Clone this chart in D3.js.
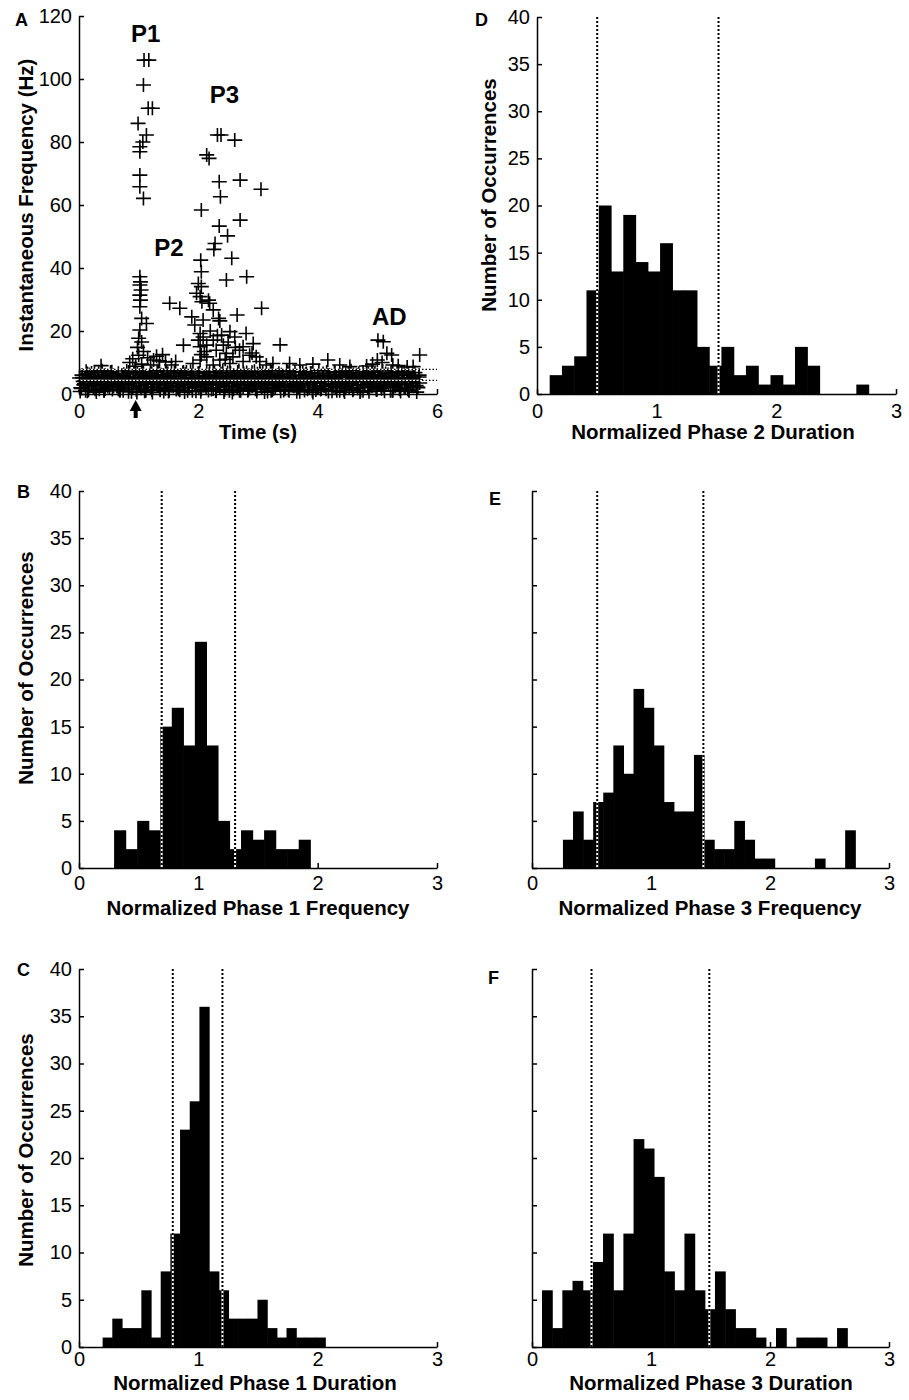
<!DOCTYPE html>
<html>
<head>
<meta charset="utf-8">
<title>phase histograms</title>
<style>
  body { margin: 0; background: #fff; }
  svg text { font-family: "Liberation Sans", Arial, sans-serif; }
</style>
</head>
<body>
<script src="https://d3js.org/d3.v7.min.js"></script>
<script>
// ---------- panel A : instantaneous frequency of every spike ----------
// high spikes (P1, P2, P3, AD), [time s, freq Hz]
var burstSpikes = [
  [1.09,106],[1.17,106],[1.08,98.1],[1.16,90.7],[1.23,90.7],[0.99,85.9],[1.13,82.2],[1.07,80],
  [1.02,78.5],[1.02,76.9],[1.02,69.5],[1.02,65.8],[1.08,62.1],
  [2.32,82.2],[2.38,82.2],[2.61,80.6],[2.14,75.9],[2.18,74.8],[2.35,67.4],[2.70,67.9],[3.05,65],
  [2.37,62.6],[2.05,58.4],[2.70,55.2],[2.35,53.3],[2.49,50.2],[2.28,47.8],[2.26,45.9],[2.56,43.1],
  [2.04,42.5],[2.05,38.8],[2.47,36.2],[2.81,37.2],[2.00,35.1],[2.05,34.1],[1.97,32],[2.03,30.9],
  [2.06,29.3],[2.17,29.8],[2.19,28.8],[2.25,26.7],[2.34,24],[2.36,23.2],[2.65,25.1],[3.06,27.2],
  [1.89,24.5],[1.94,21.9],[2.03,19.2],[2.08,18.1],[2.03,15],[2.08,23.5],[2.00,17.1],[2.14,15.5],
  [2.25,17.1],[2.39,18.7],[2.53,19.8],[2.61,18.1],[2.80,19.2],[2.92,16],[2.69,13.9],[2.47,12.9],
  [2.30,13.9],[2.14,11.8],[2.58,11.8],[2.86,12.3],[2.97,11.8],[2.03,10.8],[2.36,10.8],[2.75,10.3],
  [1.91,9.7],[2.25,9.2],[2.53,9.7],[3.03,10.3],[2.20,20],[2.42,15.5],[2.62,14.8],[2.10,13.5],
  [2.50,16.5],[2.75,15],[2.05,12.5],[2.32,18.5],[2.45,11],[2.90,13],[3.37,15.6],
  [3.14,9.2],[3.25,9.7],[3.53,9.7],[3.70,9.2],[3.92,9.5],[4.17,10.8],[4.37,9.2],[4.54,8.7],
  [4.82,8.9],[5.26,9.2],[5.60,8.7],
  [1.02,37.2],[1.03,35.6],[1.02,34.6],[1.04,33],[1.02,31.4],[1.03,29.8],[1.02,27.7],[1.05,24],
  [1.13,22.4],[1.02,20.3],[1.00,17.7],[1.05,16.5],[0.98,14.8],[1.08,13.5],[1.00,12.3],[0.90,11.2],
  [1.15,11.5],[1.25,10.8],[1.35,10.5],[1.45,10.2],[0.85,10],[1.05,9.5],[0.95,8.8],[1.20,9.2],
  [1.55,9.2],[1.62,10.3],[1.52,28.8],[1.69,27.2],[1.75,15.5],[1.30,12],[1.40,12.5],[0.37,9],
  [5.01,17.1],[5.10,16.6],[5.16,12.9],[5.24,12.4],[5.71,12.4],[5.00,10.8],[4.92,9.5],[5.08,10],
  [5.35,9],[5.50,8.6]
];
// background firing, times (s) and frequencies (Hz)
var baselineTimes = [
  0.03,0.11,0.18,0.27,0.35,0.42,0.51,0.58,0.66,0.74,0.81,0.90,0.97,1.04,1.12,1.20,1.27,1.36,1.43,1.51,
  1.58,1.67,1.74,1.82,1.90,1.97,2.05,2.13,2.20,2.29,2.36,2.44,2.52,2.59,2.67,2.75,2.83,2.90,2.98,3.06,
  3.13,3.22,3.29,3.37,3.45,3.52,3.60,3.68,3.76,3.83,3.91,3.99,4.06,4.14,4.22,4.30,4.37,4.45,4.53,4.60,
  4.68,4.76,4.84,4.91,4.99,5.07,5.14,5.22,5.30,5.37,5.45,5.53,5.60,5.68,
  0.07,0.15,0.22,0.31,0.38,0.47,0.54,0.62,0.70,0.78,0.86,0.93,1.01,1.08,1.16,1.24,1.32,1.39,1.47,1.55,
  1.63,1.70,1.78,1.86,1.94,2.01,2.09,2.17,2.25,2.32,2.40,2.48,2.56,2.63,2.71,2.79,2.87,2.94,3.02,3.10,
  3.18,3.25,3.33,3.41,3.49,3.56,3.64,3.72,3.80,3.87,3.95,4.03,4.10,4.18,4.26,4.34,4.41,4.49,4.57,4.64,
  4.72,4.80,4.88,4.95,5.03,5.11,5.18,5.26,5.34,5.41,5.49,5.57,5.64,5.71,
  0.05,0.14,0.24,0.33,0.44,0.53,0.63,0.72,0.83,0.92,1.02,1.11,1.22,1.31,1.41,1.50,1.61,1.70,1.80,1.89,
  2.00,2.10,2.19,2.28,2.38,2.47,2.57,2.66,2.76,2.85,2.95,3.04,3.14,3.23,3.33,3.43,3.52,3.62,3.71,3.81,
  3.90,4.00,4.09,4.19,4.28,4.38,4.47,4.57,4.66,4.76,4.85,4.95,5.04,5.14,5.23,5.33,5.42,5.52,5.61,5.70,
  0.02,0.09,0.16,0.22,0.29,0.36,0.42,0.49,0.56,0.63,0.69,0.76,0.83,0.89,0.96,1.03,1.10,1.16,1.23,1.30,
  1.36,1.43,1.50,1.57,1.63,1.70,1.77,1.83,1.90,1.97,2.04,2.10,2.17,2.24,2.30,2.37,2.44,2.51,2.57,2.64,
  2.71,2.77,2.84,2.91,2.98,3.04,3.11,3.18,3.24,3.31,3.38,3.45,3.51,3.58,3.65,3.71,3.78,3.85,3.92,3.98,
  4.05,4.12,4.18,4.25,4.32,4.39,4.45,4.52,4.59,4.65,4.72,4.79,4.86,4.92,4.99,5.06,5.12,5.19,5.26,5.33,
  5.39,5.46,5.53,5.59,5.66,
  0.06,0.12,0.19,0.26,0.33,0.39,0.46,0.53,0.59,0.66,0.73,0.80,0.86,0.93,1.00,1.06,1.13,1.20,1.27,1.33,
  1.40,1.47,1.53,1.60,1.67,1.74,1.80,1.87,1.94,2.00,2.07,2.14,2.21,2.27,2.34,2.41,2.47,2.54,2.61,2.68,
  2.74,2.81,2.88,2.94,3.01,3.08,3.15,3.21,3.28,3.35,3.41,3.48,3.55,3.62,3.68,3.75,3.82,3.88,3.95,4.02,
  4.09,4.15,4.22,4.29,4.35,4.42,4.49,4.56,4.62,4.69,4.76,4.82,4.89,4.96,5.03,5.09,5.16,5.23,5.29,5.36,
  5.43,5.50,5.56,5.63,5.70,
  0.04,0.10,0.17,0.24,0.30,0.37,0.44,0.51,0.57,0.64,0.71,0.77,0.84,0.91,0.98,1.04,1.11,1.18,1.24,1.31,
  1.38,1.45,1.51,1.58,1.65,1.71,1.78,1.85,1.92,1.98,2.05,2.12,2.18,2.25,2.32,2.39,2.45,2.52,2.59,2.65,
  2.72,2.79,2.86,2.92,2.99,3.06,3.12,3.19,3.26,3.33,3.39,3.46,3.53,3.59,3.66,3.73,3.80,3.86,3.93,4.00,
  4.06,4.13,4.20,4.27,4.33,4.40,4.47,4.53,4.60,4.67,4.74,4.80,4.87,4.94,5.00,5.07,5.14,5.21,5.27,5.34,
  5.41,5.47,5.54,5.61,5.67,
  0.01,0.08,0.14,0.21,0.28,0.34,0.41,0.48,0.55,0.61,0.68,0.75,0.81,0.88,0.95,1.02,1.08,1.15,1.22,1.28,
  1.35,1.42,1.49,1.55,1.62,1.69,1.75,1.82,1.89,1.96,2.02,2.09,2.16,2.22,2.29,2.36,2.43,2.49,2.56,2.63,
  2.69,2.76,2.83,2.90,2.96,3.03,3.10,3.16,3.23,3.30,3.37,3.43,3.50,3.57,3.63,3.70,3.77,3.84,3.90,3.97,
  4.04,4.10,4.17,4.24,4.31,4.37,4.44,4.51,4.57,4.64,4.71,4.78,4.84,4.91,4.98,5.04,5.11,5.18,5.25,5.31,
  5.38,5.45,5.51,5.58,5.65
];
var baselineFreqs = [
  2,1,2.5,1.5,3,1,2,2.5,1.5,1,3,2,0.5,2.5,1,2,3,1.5,2,1,
  2.5,1.5,3,1,2,2.5,1.5,2,3,1,2,2.5,1,1.5,3,2,1,2.5,1.5,2,
  3,1,2,2.5,1.5,1,2.5,2,3,1.5,1,2,2.5,1.5,3,2,1,2.5,2,1.5,
  3,1,2,2.5,1.5,2,3,1,2.5,1.5,2,1,2.5,2,
  4,4.5,3.5,5,4,3.5,4.5,5,4,3.5,4.5,4,5,3.5,4,4.5,5,4,3.5,4.5,
  4,5,3.5,4.5,4,5,4,3.5,4.5,4,5,3.5,4,4.5,4,5,3.5,4.5,4,5,
  4,3.5,4.5,5,4,4,3.5,4.5,5,4,4.5,3.5,4,5,4.5,4,3.5,4.5,4,5,
  4,4.5,3.5,4,5,4.5,4,3.5,4.5,4,5,4,4.5,3.5,
  6,6.5,5.5,7,6,6.5,5.5,6,7,6.5,6,5.5,6.5,7,6,5.5,6.5,6,7,6,
  6.5,5.5,7,6,6.5,6,5.5,7,6.5,6,5.5,6.5,6,7,6,5.5,6.5,6,7,6.5,
  6,5.5,6.5,6,7,6,6.5,5.5,6,7,6.5,6,5.5,6.5,6,7,6,6.5,5.5,6,
  0.8,3.2,1.2,2.8,0.6,3.4,1.0,3.0,1.4,2.6,1.1,2.9,0.7,3.3,1.3,2.7,0.9,3.1,0.5,3.5,
  1.2,2.8,0.8,3.2,1.4,2.6,0.6,3.4,1.0,3.0,0.7,3.3,1.1,2.9,0.9,3.1,1.3,2.7,0.5,3.5,
  1.0,3.0,1.4,2.6,0.8,3.2,0.6,3.4,1.2,2.8,0.9,3.1,1.3,2.7,0.7,3.3,1.1,2.9,0.5,3.5,
  1.4,2.6,0.8,3.2,1.0,3.0,0.6,3.4,1.2,2.8,1.1,2.9,0.7,3.3,1.3,2.7,0.9,3.1,1.0,3.0,
  0.8,3.2,1.2,2.8,0.6,
  5.2,7.2,4.8,6.8,5.4,7.4,5.0,7.0,4.6,6.6,5.3,7.3,4.9,6.9,5.1,7.1,4.7,6.7,5.5,7.5,
  5.0,7.0,5.4,7.4,4.8,6.8,5.2,7.2,4.6,6.6,5.1,7.1,4.9,6.9,5.3,7.3,4.7,6.7,5.5,7.5,
  4.8,6.8,5.2,7.2,5.0,7.0,5.4,7.4,4.6,6.6,5.3,7.3,4.9,6.9,5.1,7.1,4.7,6.7,5.5,7.5,
  5.0,7.0,4.8,6.8,5.2,7.2,5.4,7.4,4.6,6.6,5.1,7.1,4.9,6.9,5.3,7.3,4.7,6.7,5.0,7.0,
  5.2,7.2,4.8,6.8,5.4,
  1.8,4.2,6.2,2.2,3.8,5.8,1.6,4.4,6.0,2.4,3.6,5.6,2.0,4.0,6.4,1.8,3.9,5.9,2.3,4.3,
  6.1,1.7,3.7,5.7,2.1,4.1,6.3,1.9,4.2,5.8,2.2,3.8,6.2,1.6,4.4,5.6,2.4,3.6,6.0,2.0,
  4.0,5.9,1.8,3.9,6.4,2.3,4.3,5.7,1.7,3.7,6.1,2.1,4.1,5.8,1.9,4.2,6.3,2.2,3.8,5.6,
  1.6,4.4,6.0,2.4,3.6,5.9,2.0,4.0,6.2,1.8,3.9,5.7,2.3,4.3,6.1,1.7,3.7,5.8,2.1,4.1,
  6.3,1.9,4.2,5.6,2.2,
  5.1,2.9,0.9,6.7,3.3,1.5,5.5,2.5,7.1,4.6,1.1,6.3,3.1,0.7,5.3,2.7,6.9,4.8,1.3,5.7,
  3.5,0.8,6.5,2.6,4.7,1.2,7.0,3.2,5.0,0.9,6.6,2.8,4.9,1.4,5.6,3.4,0.6,6.8,2.5,4.5,
  1.0,5.4,3.0,6.9,1.5,4.6,2.7,0.8,6.4,3.3,5.2,1.1,7.2,2.9,4.8,0.7,5.8,3.1,6.6,1.3,
  4.4,2.6,6.0,0.9,5.5,3.5,1.2,6.7,2.8,4.7,0.6,5.9,3.2,7.1,1.4,4.9,2.4,6.2,1.0,5.3,
  3.0,6.8,1.5,4.5,2.7
];
var thresholdsA = [7.8, 4.3];      // Hz
var stimTime = 0.95;               // s, arrow
var phaseNames = ['P1', 'P3', 'P2', 'AD'];
var phaseNameTimes = [0.87, 2.19, 1.26, 4.91];
var phaseNameFreqs = [111.9, 92.4, 43.8, 21.9];
var ticksA_x = [0, 2, 4, 6];
var ticksA_y = [0, 20, 40, 60, 80, 100, 120];

// ---------- histograms B-F : counts per bin ----------
var countsB = [4,2,5,4,15,17,13,24,13,5,2,4,3,4,2,2,3];
var countsC = [1,3,2,2,6,1,8,12,23,26,36,8,6,3,3,3,5,2,1,2,1,1,1];
var countsD = [2,3,4,11,20,13,19,14,13,16,11,11,5,3,5,2,3,1,2,1,5,3,0,0,0,1];
var countsE = [3,6,3,7,8,13,10,19,17,13,7,6,6,12,3,2,2,5,3,1,1,0,0,0,0,1,0,0,4];
var countsF = [6,2,6,7,6,9,12,6,12,22,21,18,8,6,12,6,4,8,4,2,2,1,0,2,0,1,1,1,0,2];
// first bin edge, bin width
var binsB = [0.294, 0.0967];
var binsC = [0.198, 0.0811];
var binsD = [0.106, 0.1025];
var binsE = [0.260, 0.0847];
var binsF = [0.084, 0.0855];
// dotted limits
var cutsB = [0.693, 1.308];
var cutsC = [0.786, 1.202];
var cutsD = [0.503, 1.517];
var cutsE = [0.548, 1.440];
var cutsF = [0.500, 1.490];
var histTicksX = [0, 1, 2, 3];
var histTicksY = [0, 5, 10, 15, 20, 25, 30, 35, 40];

var width = 909, height = 1400;
var svg = d3.select('body').append('svg')
    .attr('width', width).attr('height', height)
    .style('background', '#fff');

function styleAxis(g) {
    g.selectAll('path, line').attr('stroke', '#000').attr('stroke-width', 1.5);
    g.selectAll('text').attr('font-size', 20).attr('fill', '#000')
        .attr('font-family', '"Liberation Sans", Arial, sans-serif');
}

function yTitle(txt, x, y) {
    svg.append('text')
        .attr('transform', 'translate(' + x + ',' + y + ') rotate(-90)')
        .attr('text-anchor', 'middle')
        .attr('font-size', 20.5).attr('font-weight', 'bold')
        .text(txt);
}
function xTitle(txt, x, y) {
    svg.append('text').attr('x', x).attr('y', y)
        .attr('text-anchor', 'middle')
        .attr('font-size', 20.5).attr('font-weight', 'bold')
        .text(txt);
}
function letter(txt, x, y) {
    svg.append('text').attr('x', x).attr('y', y)
        .attr('font-size', 18).attr('font-weight', 'bold')
        .text(txt);
}

// ---------- panel A ----------
var xA = d3.scaleLinear().domain([0, 6]).range([79, 437]);
var yA = d3.scaleLinear().domain([0, 120]).range([394, 16]);
var gA = svg.append('g');

var cross = 'M-7.5,0H7.5M0,-7V7';
var allSpikes = baselineTimes.map(function(t, i) { return [t, baselineFreqs[i]]; })
    .concat(burstSpikes);
gA.selectAll('path.spike')
    .data(allSpikes)
    .enter().append('path')
    .attr('class', 'spike')
    .attr('d', cross)
    .attr('transform', function(d) { return 'translate(' + xA(d[0]) + ',' + yA(d[1]) + ')'; })
    .attr('stroke', '#000').attr('stroke-width', 1.6).attr('fill', 'none');

// threshold lines: white over the dense band, dotted black outside
thresholdsA.forEach(function(f) {
    gA.append('line').attr('x1', xA(0)).attr('x2', xA(5.75))
        .attr('y1', yA(f)).attr('y2', yA(f))
        .attr('stroke', '#fff').attr('stroke-width', 1.3);
    gA.append('line').attr('x1', xA(0)).attr('x2', xA(6))
        .attr('y1', yA(f)).attr('y2', yA(f))
        .attr('stroke', '#000').attr('stroke-width', 1.3)
        .attr('stroke-dasharray', '1.5,2');
});

var fmt = d3.format('d');
var axA_x = svg.append('g').attr('transform', 'translate(0,394)')
    .call(d3.axisBottom(xA).tickValues(ticksA_x).tickFormat(fmt).tickSizeInner(-5).tickSizeOuter(0).tickPadding(10));
styleAxis(axA_x);
var axA_y = svg.append('g').attr('transform', 'translate(79,0)')
    .call(d3.axisLeft(yA).tickValues(ticksA_y).tickFormat(fmt).tickSizeInner(-5).tickSizeOuter(0).tickPadding(7));
styleAxis(axA_y);

// stimulus arrow
svg.append('path')
    .attr('d', 'M' + xA(stimTime) + ',400 l-6,11 h4 v7 h4 v-7 h4 z')
    .attr('fill', '#000');

svg.selectAll('text.phase')
    .data(phaseNames)
    .enter().append('text')
    .attr('class', 'phase')
    .attr('x', function(d, i) { return xA(phaseNameTimes[i]); })
    .attr('y', function(d, i) { return yA(phaseNameFreqs[i]); })
    .attr('font-size', 24).attr('font-weight', 'bold')
    .text(function(d) { return d; });

letter('A', 15, 26);
yTitle('Instantaneous Frequency (Hz)', 33, 205);
xTitle('Time (s)', 258, 439);

// ---------- histograms ----------
function histPanel(counts, bins, cuts, box, showLabels, tickPad) {
    var x = d3.scaleLinear().domain([0, 3]).range([box.x0, box.x1]);
    var y = d3.scaleLinear().domain([0, 40]).range([box.y1, box.y0]);
    var g = svg.append('g');

    g.selectAll('rect')
        .data(counts)
        .enter().append('rect')
        .attr('x', function(d, i) { return x(bins[0] + i * bins[1]); })
        .attr('width', function(d, i) { return x(bins[0] + (i + 1) * bins[1]) - x(bins[0] + i * bins[1]) + 0.6; })
        .attr('y', function(d) { return y(d); })
        .attr('height', function(d) { return y(0) - y(d); })
        .attr('fill', '#000');

    cuts.forEach(function(c) {
        g.append('line').attr('x1', x(c)).attr('x2', x(c))
            .attr('y1', y(40)).attr('y2', y(0))
            .attr('stroke', '#fff').attr('stroke-width', 2);
        g.append('line').attr('x1', x(c)).attr('x2', x(c))
            .attr('y1', y(40)).attr('y2', y(0))
            .attr('stroke', '#000').attr('stroke-width', 2)
            .attr('stroke-dasharray', '2,2');
    });

    var ax = svg.append('g').attr('transform', 'translate(0,' + box.y1 + ')')
        .call(d3.axisBottom(x).tickValues(histTicksX).tickFormat(fmt).tickSizeInner(-5).tickSizeOuter(0).tickPadding(tickPad));
    styleAxis(ax);
    var ay = d3.axisLeft(y).tickValues(histTicksY).tickFormat(fmt).tickSizeInner(-5).tickSizeOuter(0).tickPadding(7);
    if (!showLabels) ay.tickFormat(function() { return ''; });
    var gy = svg.append('g').attr('transform', 'translate(' + box.x0 + ',0)').call(ay);
    styleAxis(gy);
}

histPanel(countsD, binsD, cutsD, {x0: 537, x1: 896, y0: 17, y1: 394}, true, 10);
letter('D', 475, 26);
yTitle('Number of Occurrences', 496, 195);
xTitle('Normalized Phase 2 Duration', 713, 439);

histPanel(countsB, binsB, cutsB, {x0: 79, x1: 437, y0: 491, y1: 868}, true, 8);
letter('B', 17, 498);
yTitle('Number of Occurrences', 33, 668);
xTitle('Normalized Phase 1 Frequency', 258, 915);

histPanel(countsE, binsE, cutsE, {x0: 532, x1: 889, y0: 491, y1: 868}, false, 8);
letter('E', 489, 505);
xTitle('Normalized Phase 3 Frequency', 710, 915);

histPanel(countsC, binsC, cutsC, {x0: 79, x1: 437, y0: 969, y1: 1347}, true, 5);
letter('C', 17, 976);
yTitle('Number of Occurrences', 33, 1150);
xTitle('Normalized Phase 1 Duration', 255, 1390);

histPanel(countsF, binsF, cutsF, {x0: 532, x1: 889, y0: 969, y1: 1347}, false, 5);
letter('F', 488, 984);
xTitle('Normalized Phase 3 Duration', 711, 1390);
</script>
</body>
</html>
